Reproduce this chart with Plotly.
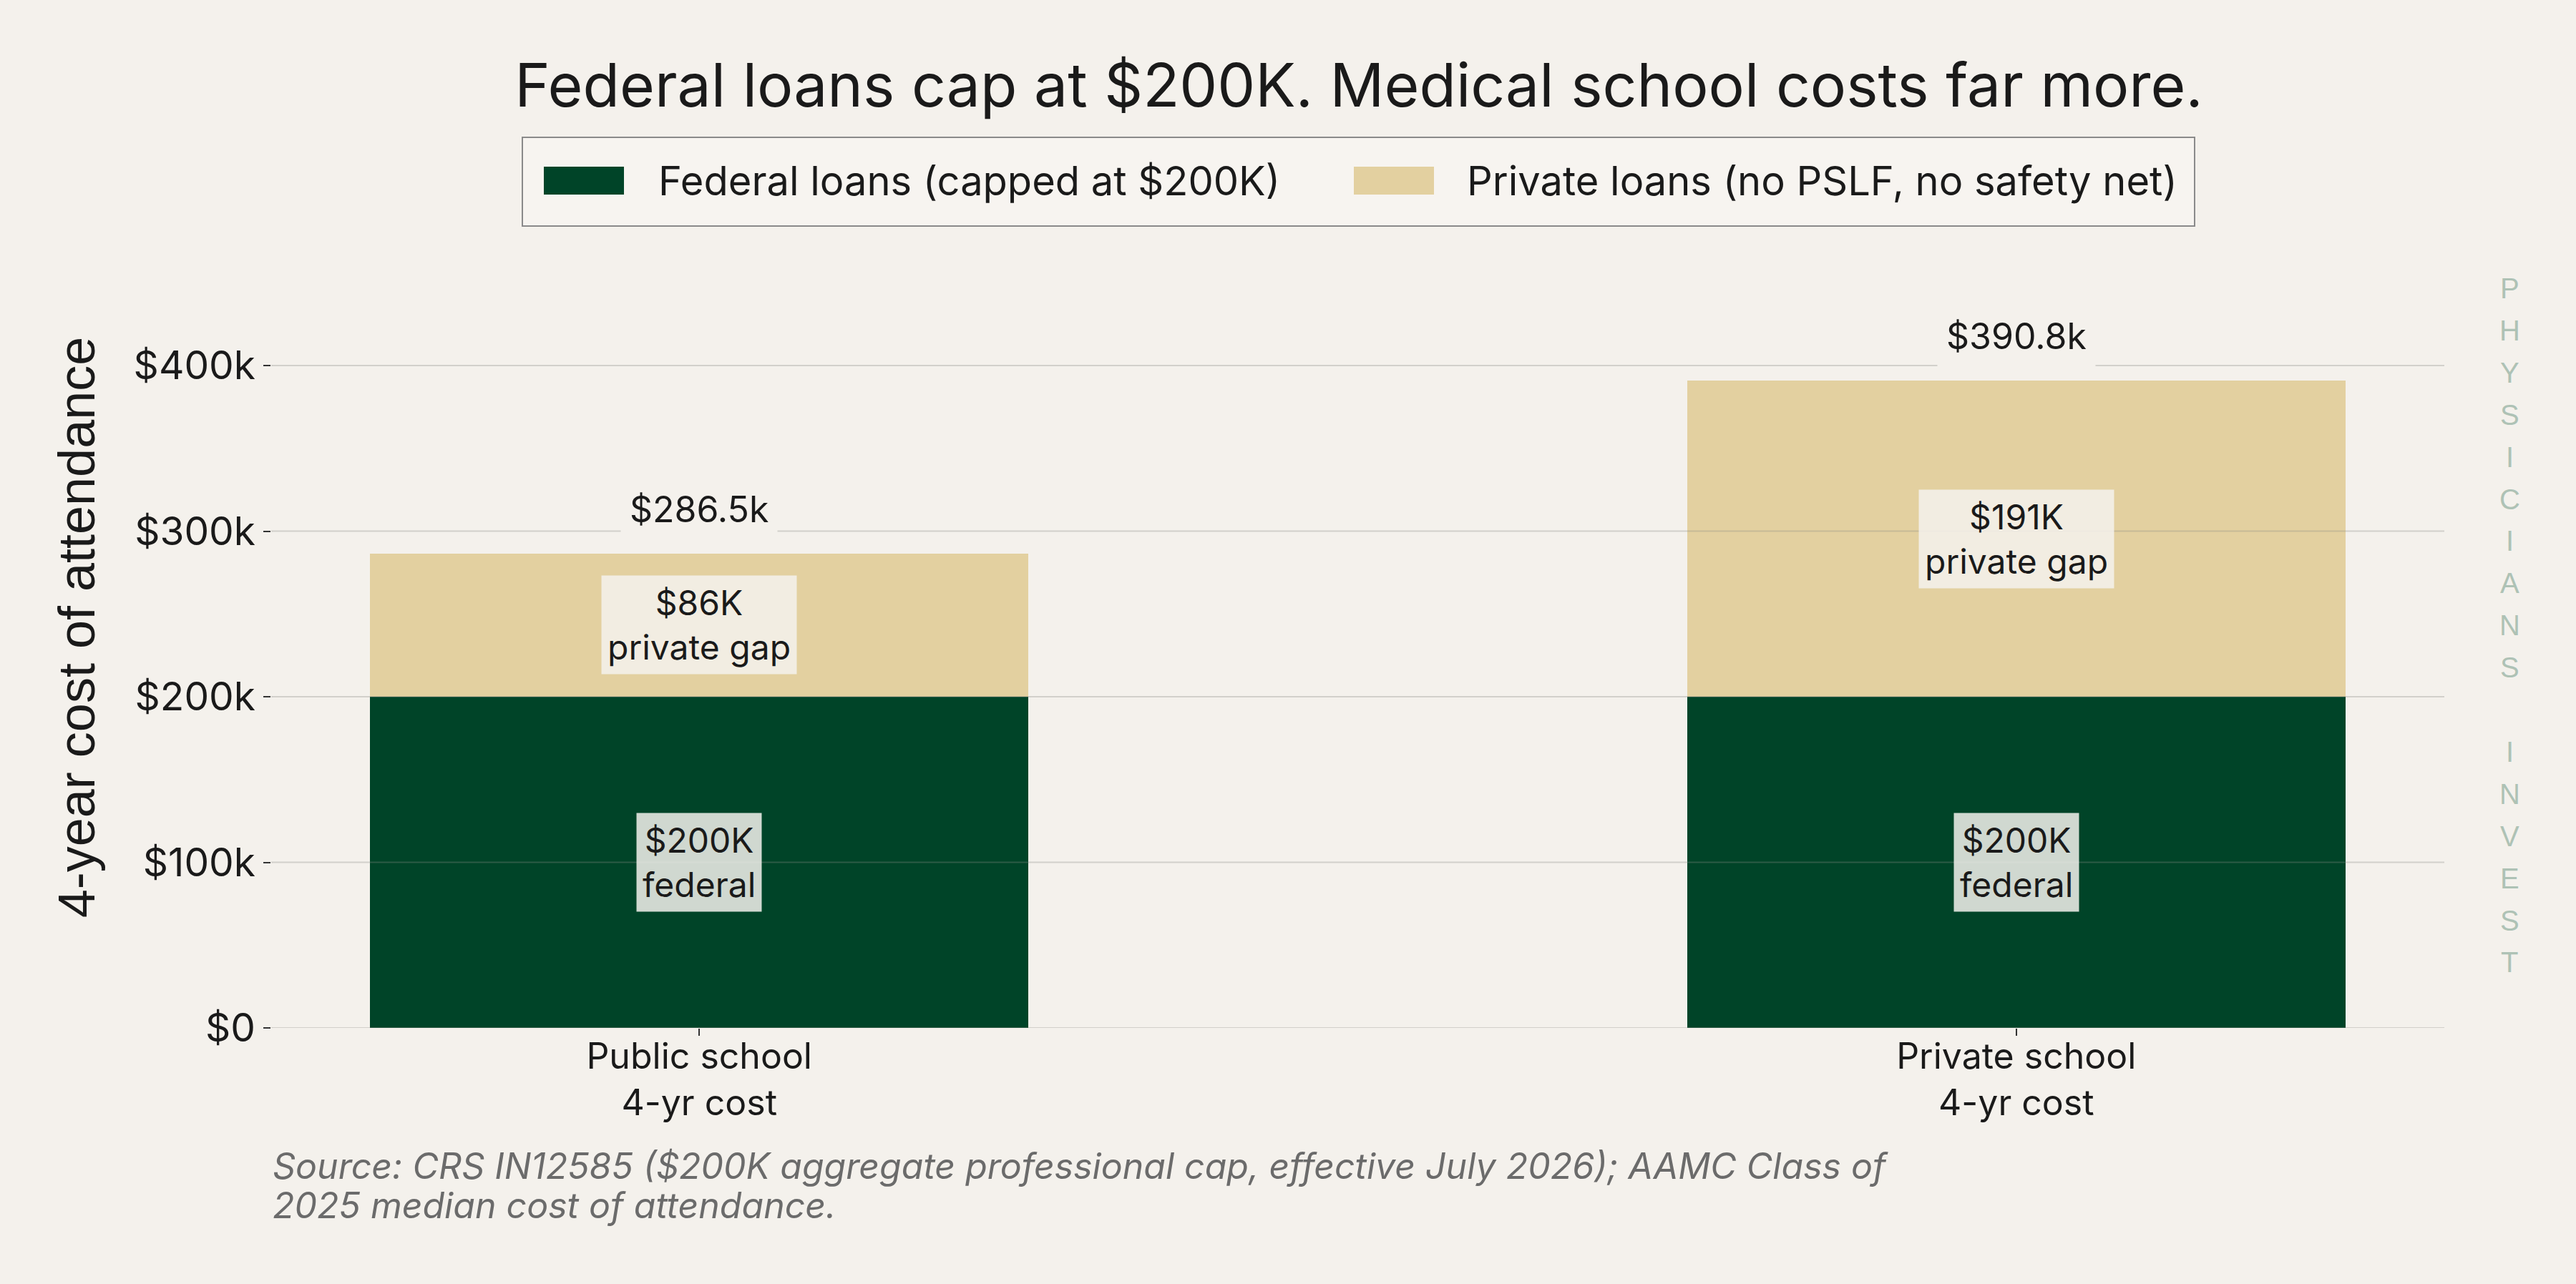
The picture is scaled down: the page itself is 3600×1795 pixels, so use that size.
import plotly.graph_objects as go

categories = ["Public school<br>4-yr cost", "Private school<br>4-yr cost"]
federal = [200000, 200000]
private = [86500, 190800]
series_names = ["Federal loans (capped at $200K)", "Private loans (no PSLF, no safety net)"]
y_ticks = [0, 100000, 200000, 300000, 400000]
y_tick_labels = ["$0", "$100k", "$200k", "$300k", "$400k"]
source_lines = ["Source: CRS IN12585 ($200K aggregate professional cap, effective July 2026); AAMC Class of",
                "2025 median cost of attendance."]
watermark = "PHYSICIANS INVEST"

totals = [f + p for f, p in zip(federal, private)]

BG = "#F4F1EC"
GREEN = "#004428"
TAN = "#E3D0A0"
INK = "#1a1a1a"
W, H = 3600, 1795
L, R, T, B = 379, 184, 317, 358


def px_x(px):
    return (px - L) / (W - L - R)


def px_y(py):
    return (H - B - py) / (H - T - B)


fig = go.Figure()
fig.add_trace(go.Bar(x=categories, y=federal, name=series_names[0], marker_color=GREEN,
                     marker_line_width=0, width=0.5, showlegend=False))
fig.add_trace(go.Bar(x=categories, y=private, name=series_names[1], marker_color=TAN,
                     marker_line_width=0, width=0.5, showlegend=False))

# gridlines drawn over the bars, like the original
for v in y_ticks:
    fig.add_shape(type="line", xref="paper", x0=0, x1=1, yref="y", y0=v, y1=v,
                  line=dict(color="rgba(140,140,135,0.32)", width=2), layer="above")

label_font = dict(family="Inter", size=48, color=INK)
for i, c in enumerate(categories):
    fig.add_annotation(x=c, y=federal[i] / 2, text=f"${federal[i] / 1000:.0f}K<br>federal",
                       showarrow=False, font=label_font, bgcolor="rgba(245,242,237,0.85)", borderpad=8)
    fig.add_annotation(x=c, y=federal[i] + private[i] / 2, text=f"${private[i] / 1000:.0f}K<br>private gap",
                       showarrow=False, font=label_font, bgcolor="rgba(245,242,237,0.85)", borderpad=8)
    fig.add_annotation(x=c, y=totals[i], yshift=62, text=f"${totals[i] / 1000:.1f}k", showarrow=False,
                       font=dict(family="Inter", size=50, color=INK), bgcolor=BG, borderpad=12)

# legend box
fig.add_shape(type="rect", xref="paper", yref="paper", x0=px_x(730), x1=px_x(3067), y0=px_y(316), y1=px_y(192),
              line=dict(color="#8a8a8a", width=2), fillcolor="rgba(247,245,241,0.8)", layer="above")
legend_items = [(series_names[0], GREEN, 760, 918), (series_names[1], TAN, 1892, 2048)]
for name, col, sx, tx in legend_items:
    fig.add_shape(type="rect", xref="paper", yref="paper", x0=px_x(sx), x1=px_x(sx + 112),
                  y0=px_y(272), y1=px_y(233), line_width=0, fillcolor=col, layer="above")
    fig.add_annotation(xref="paper", yref="paper", x=px_x(tx), y=px_y(253), xanchor="left", yanchor="middle",
                       text=name, showarrow=False, font=dict(family="Inter", size=56, color=INK))

# source note, one annotation per line for tighter spacing
for line, py in zip(source_lines, [1630, 1685]):
    fig.add_annotation(xref="paper", yref="paper", x=0, y=px_y(py), xanchor="left", yanchor="middle",
                       text=f"<i>{line}</i>", showarrow=False,
                       font=dict(family="Inter", size=50, color="#6b6b6b"))

# vertical watermark, one letter per row
for k, ch in enumerate(watermark):
    if ch == " ":
        continue
    fig.add_annotation(xref="paper", yref="paper", x=px_x(3507), y=px_y(403 + 58.9 * k),
                       xanchor="center", yanchor="middle", text=ch, showarrow=False,
                       font=dict(family="Liberation Sans", size=40, color="#aec2b5"))

fig.update_layout(
    width=W, height=H,
    barmode="stack",
    paper_bgcolor=BG, plot_bgcolor=BG,
    margin=dict(l=L, r=R, t=T, b=B),
    title=dict(text="Federal loans cap at $200K. Medical school costs far more.",
               x=px_x(1899), xref="paper", xanchor="center", y=1 - 120 / H, yanchor="middle",
               font=dict(family="Inter", size=84, color=INK)),
    xaxis=dict(range=[-0.325, 1.325], showgrid=False, zeroline=False, showline=False,
               ticks="outside", ticklen=10, tickwidth=2, tickcolor="#333", ticklabelstandoff=-14,
               tickfont=dict(family="Inter", size=50, color=INK)),
    yaxis=dict(range=[0, 483800], tickvals=y_ticks, ticktext=y_tick_labels,
               showgrid=False, zeroline=False, showline=False,
               ticks="outside", ticklen=10, tickwidth=2, tickcolor="#333",
               tickfont=dict(family="Inter", size=55, color=INK),
               title=dict(text="4-year cost of attendance", standoff=30,
                          font=dict(family="Liberation Sans", size=72, color=INK))),
    showlegend=False,
)

fig.write_html("out.html", config={"displayModeBar": False},
               post_script="document.body.style.margin='0';document.body.style.background='#F4F1EC';")
